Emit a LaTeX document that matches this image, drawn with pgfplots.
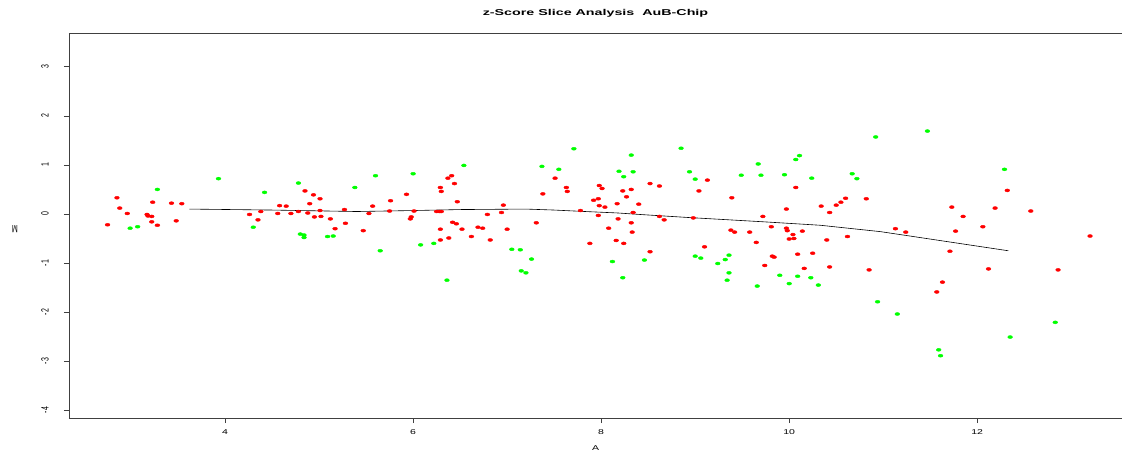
\documentclass[border=0pt]{standalone}
\usepackage{fontspec}
\setmainfont{Liberation Sans}
\usepackage{graphicx}
\usepackage{pgfplots}
\pgfplotsset{compat=1.18}

\begin{document}
\begin{tikzpicture}
\useasboundingbox (-69pt,-32pt) rectangle (1053pt,418pt);
\begin{axis}[
    scale only axis,
    width=1053pt, height=385pt,
    xmin=2.34, xmax=13.54,
    ymin=-4.16, ymax=3.69,
    xtick={4,6,...,12},
    ytick={-4,-3,...,3},
    axis x line*=bottom, axis y line*=left,
    axis line style={black!75, line width=0.8pt, -},
    tick align=outside,
    major tick length=5pt,
    tick style={black!75, line width=0.7pt},
    /pgf/number format/assume math mode=true,
    ticklabel style={font=\fontsize{7}{8}\selectfont},
    xticklabel style={xscale=1.5},
    yticklabel style={xscale=1.5, rotate=90, anchor=south},
    yticklabel shift=10pt,
    xticklabel shift=3pt,
    title={\scalebox{1.68}[1]{\bfseries\fontsize{8.5}{10}\selectfont z-Score Slice Analysis\ \ AuB-Chip}},
    title style={at={(axis description cs:0.5,1)}, anchor=center, yshift=14pt},
    xlabel={\fontsize{7}{8}\selectfont A},
    xlabel style={at={(axis description cs:0.5,0)}, anchor=center, yshift=-30pt, xscale=1.5},
    ylabel={\fontsize{7}{8}\selectfont M},
    ylabel style={at={(axis description cs:-0.0513,0.49)}, anchor=center, xscale=1.5, rotate=90},
    clip=false,
]
\addplot[only marks, mark=*, color=red, mark size=1.5pt, mark options={xscale=1.6, draw=red, fill=red}] coordinates {
(2.75,-0.22)(2.85,0.33)(2.88,0.12)(2.96,0.01)(3.23,0.24)(3.17,-0.01)(3.18,-0.04)(3.22,-0.05)(3.22,-0.16)(3.28,-0.23)(3.43,0.22)(3.54,0.21)(3.48,-0.14)
(4.26,-0.01)(4.35,-0.12)(4.38,0.05)(4.85,0.47)(4.94,0.39)(5.01,0.31)(4.90,0.21)(4.58,0.17)(4.65,0.16)(4.56,0.01)(4.70,0.01)(4.78,0.05)(4.88,0.02)(5.01,0.07)(4.95,-0.06)(5.02,-0.05)(5.12,-0.10)(5.17,-0.30)(5.27,0.09)(5.28,-0.19)
(5.57,0.16)(5.53,0.01)(5.47,-0.34)(5.76,0.27)(5.75,0.06)(5.93,0.40)(6.01,0.06)(5.98,-0.06)(5.97,-0.10)(6.29,-0.31)(6.29,-0.53)(6.38,-0.49)(6.25,0.05)(6.28,0.05)(6.30,0.05)(6.29,0.54)(6.30,0.46)(6.37,0.73)(6.41,0.78)(6.44,0.62)(6.47,0.25)(6.42,-0.17)(6.46,-0.20)(6.52,-0.31)(6.62,-0.46)(6.69,-0.27)(6.74,-0.29)(6.79,-0.01)(6.82,-0.53)(6.94,0.03)(6.96,0.18)(7.00,-0.31)
(7.31,-0.18)(7.38,0.41)(7.51,0.73)(7.63,0.54)(7.64,0.46)(7.78,0.07)(7.88,-0.60)(7.92,0.28)(7.97,0.31)(7.98,0.58)(8.01,0.52)(7.98,0.17)(8.04,0.14)(7.97,-0.03)(8.08,-0.29)(8.18,-0.10)(8.16,-0.54)(8.24,-0.60)(8.17,0.21)(8.23,0.47)(8.27,0.35)(8.32,0.50)(8.34,0.03)(8.32,-0.18)(8.33,-0.37)(8.40,0.20)
(8.52,0.62)(8.62,0.57)(8.62,-0.05)(8.67,-0.12)(8.52,-0.77)(9.04,0.47)(9.13,0.69)(8.98,-0.08)(9.10,-0.67)(9.39,0.33)(9.38,-0.33)(9.42,-0.37)(9.58,-0.37)(9.65,-0.58)(9.72,-0.05)(9.81,-0.26)(9.74,-1.05)(9.82,-0.86)(9.84,-0.88)(9.97,0.10)(9.97,-0.29)(9.98,-0.34)(10.04,-0.42)(10.00,-0.51)(10.05,-0.50)(10.09,-0.82)(10.07,0.54)(10.14,-0.35)(10.16,-1.11)(10.25,-0.80)(10.34,0.16)(10.43,0.03)(10.40,-0.53)(10.43,-1.08)(10.50,0.18)(10.55,0.24)(10.60,0.32)(10.62,-0.46)(10.82,0.31)(10.85,-1.14)(11.13,-0.30)(11.24,-0.37)
(12.32,0.48)(11.73,0.14)(11.85,-0.05)(12.19,0.12)(12.57,0.06)(12.06,-0.26)(11.77,-0.35)(11.71,-0.76)(13.20,-0.45)(12.12,-1.12)(12.86,-1.14)(11.63,-1.39)(11.57,-1.59)
};
\addplot[only marks, mark=*, color=green, mark size=1.5pt, mark options={xscale=1.6, draw=green, fill=green}] coordinates {
(2.99,-0.29)(3.07,-0.26)(3.28,0.50)(3.93,0.72)(4.42,0.44)(4.30,-0.27)(4.78,0.63)(4.80,-0.41)(4.84,-0.43)(4.84,-0.48)(5.09,-0.46)(5.15,-0.45)(5.38,0.54)(5.60,0.78)(5.65,-0.75)(6.00,0.82)(6.08,-0.63)(6.22,-0.60)(6.36,-1.35)(6.54,0.99)
(7.05,-0.72)(7.14,-0.73)(7.15,-1.16)(7.20,-1.20)(7.26,-0.92)(7.37,0.97)(7.55,0.91)(7.71,1.33)(8.12,-0.97)(8.23,-1.30)(8.19,0.87)(8.24,0.76)(8.32,1.20)(8.34,0.86)(8.46,-0.94)(8.85,1.34)(8.94,0.86)(9.00,0.71)(9.00,-0.86)(9.06,-0.90)
(9.36,-0.84)(9.32,-0.93)(9.24,-1.01)(9.36,-1.20)(9.34,-1.35)(9.49,0.79)(9.67,1.02)(9.70,0.79)(9.66,-1.47)(9.90,-1.25)(9.95,0.80)(10.00,-1.42)(10.09,-1.27)(10.07,1.11)(10.11,1.19)(10.23,-1.30)(10.31,-1.45)(10.24,0.73)(10.67,0.82)(10.72,0.72)
(10.92,1.57)(10.94,-1.79)(11.15,-2.04)(11.47,1.69)(12.29,0.91)(12.83,-2.21)(12.35,-2.51)(11.59,-2.77)(11.61,-2.89)
};
\addplot[black, line width=0.6pt, no marks] coordinates {
(3.62,0.10)(4.5,0.08)(5.4,0.05)(6.0,0.07)(6.5,0.09)(7.2,0.10)(7.5,0.08)(7.83,0.05)(8.18,0.02)(8.41,-0.01)(8.91,-0.07)(9.73,-0.16)(10.33,-0.23)(10.97,-0.36)(11.39,-0.48)(12.33,-0.75)
};
\end{axis}
\draw[black!75, line width=0.8pt] (0,385pt) -- (1053pt,385pt) -- (1053pt,0);
\end{tikzpicture}
\end{document}
